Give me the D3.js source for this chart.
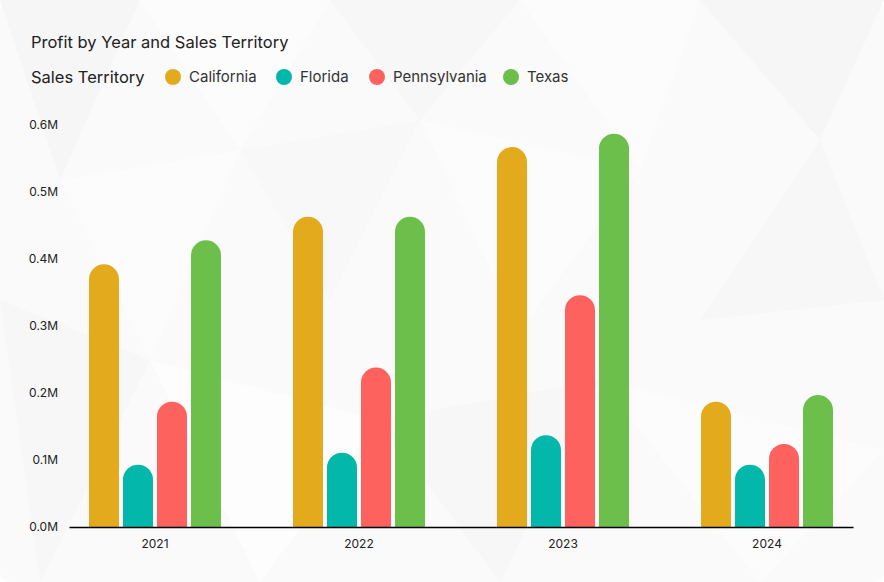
<!DOCTYPE html>
<html>
<head>
<meta charset="utf-8">
<script src="https://cdn.jsdelivr.net/npm/d3@7"></script>
<style>
    body { margin: 0; background: #ffffff; }
    svg { display: block; font-family: "Inter", "Noto Sans", sans-serif; }
</style>
</head>
<body>
<div id="chart"></div>
<script>
/*--------------------------------------*
 *---------------- Data ----------------*
 *--------------------------------------*/

const years = ['2021', '2022', '2023', '2024'];
const territories = ['California', 'Florida', 'Pennsylvania', 'Texas'];
const colors = ['#E3AA1E', '#03B8AA', '#FD625E', '#6DBF4B'];

// Profit per territory, one value per year (in millions)
const california = [0.392, 0.463, 0.567, 0.187];
const florida = [0.093, 0.111, 0.137, 0.093];
const pennsylvania = [0.187, 0.238, 0.346, 0.124];
const texas = [0.428, 0.463, 0.587, 0.197];

const yTicks = [0, 0.1, 0.2, 0.3, 0.4, 0.5, 0.6];

/*--------------------------------------*
 *------ Pre-plot initialization -------*
 *--------------------------------------*/

function initDimensions() {
    const margin = {
        top: 125,
        right: 31,
        bottom: 55,
        left: 69
    },
    width = 884 - margin.left - margin.right,
    height = 582 - margin.top - margin.bottom;

    return [ margin, width, height ];
}

function initSVG() {
    const svg = d3.select('#chart')
                .append('svg')
                .attr('width', 884)
                .attr('height', 582);
    return svg;
}

// Light low-poly card background
function drawBackground(svg) {
    svg.append('rect')
        .attr('x', 0).attr('y', 0)
        .attr('width', 884).attr('height', 582)
        .attr('rx', 10)
        .attr('fill', '#fafafa');

    const shards = [
        [[0, 0], [140, 0], [60, 180], '#f6f6f6'],
        [[140, 0], [330, 0], [240, 150], '#fcfcfc'],
        [[330, 0], [520, 0], [420, 120], '#f7f7f7'],
        [[520, 0], [700, 0], [640, 170], '#fcfcfc'],
        [[700, 0], [884, 0], [820, 140], '#f6f6f6'],
        [[60, 180], [240, 150], [150, 360], '#fcfcfc'],
        [[420, 120], [640, 170], [520, 330], '#fcfcfc'],
        [[820, 140], [884, 300], [700, 320], '#f7f7f7'],
        [[0, 300], [150, 360], [40, 582], '#f7f7f7'],
        [[150, 360], [380, 420], [260, 582], '#fdfdfd'],
        [[380, 420], [600, 380], [500, 582], '#f7f7f7'],
        [[600, 380], [884, 450], [760, 582], '#fcfcfc'],
        [[240, 150], [420, 120], [330, 300], '#f8f8f8']
    ];

    svg.append('g')
        .selectAll('polygon')
        .data(shards)
        .join('polygon')
        .attr('points', d => d.slice(0, 3).map(p => p.join(',')).join(' '))
        .attr('fill', d => d[3]);
}

function initScales(width, height) {
    const xScale = d3.scaleBand()
                    .domain(years)
                    .range([0, width])
                    .paddingInner(0.353)
                    .paddingOuter(0.098);

    const subScale = d3.scaleBand()
                    .domain(territories)
                    .range([0, xScale.bandwidth()])
                    .paddingInner(0.118);

    const yScale = d3.scaleLinear()
                    .domain([0, 0.6])
                    .range([height, 0]);

    return [ xScale, subScale, yScale ];
}

function initAxes(g, xScale, yScale, width, height) {
    const xAxis = d3.axisBottom(xScale)
                    .tickSize(0)
                    .tickPadding(12);

    const yAxis = d3.axisLeft(yScale)
                    .tickValues(yTicks)
                    .tickSize(0)
                    .tickPadding(11)
                    .tickFormat(d => d3.format('.1f')(d) + 'M');

    g.append('g')
        .attr('class', 'axis y-axis')
        .call(yAxis)
        .call(s => s.select('.domain').remove())
        .selectAll('text')
        .attr('font-size', 12)
        .attr('font-family', 'Inter, sans-serif')
        .attr('fill', '#222');

    const xg = g.append('g')
        .attr('class', 'axis x-axis')
        .attr('transform', 'translate(0,' + height + ')')
        .call(xAxis);

    xg.select('.domain')
        .attr('stroke', '#000')
        .attr('stroke-width', 1.5);

    xg.selectAll('text')
        .attr('font-size', 12)
        .attr('font-family', 'Inter, sans-serif')
        .attr('fill', '#222');

    return [ xAxis, yAxis ];
}

/*--------------------------------------*
 *------------ Title/legend ------------*
 *--------------------------------------*/

function drawHeader(svg) {
    svg.append('text')
        .attr('x', 31)
        .attr('y', 48)
        .attr('font-size', 16.5)
        .attr('fill', '#222')
        .text('Profit by Year and Sales Territory');

    const legend = svg.append('g')
        .attr('transform', 'translate(0,77)');

    legend.append('text')
        .attr('x', 31)
        .attr('y', 5.5)
        .attr('font-size', 16.5)
        .attr('fill', '#222')
        .text('Sales Territory');

    // Circle x positions
    const itemX = [173, 284, 377, 511];
    const item = legend.selectAll('.legend-item')
        .data(territories)
        .join('g')
        .attr('class', 'legend-item')
        .attr('transform', (d, i) => 'translate(' + itemX[i] + ',0)');

    item.append('circle')
        .attr('r', 8)
        .attr('fill', (d, i) => colors[i]);

    item.append('text')
        .attr('x', 16)
        .attr('y', 5)
        .attr('font-size', 15)
        .attr('fill', '#333')
        .text(d => d);
}

/*--------------------------------------*
 *-------- Plot initialization ---------*
 *--------------------------------------*/

// Bar with a fully rounded top, flat bottom
function barPath(x, y, w, h) {
    const r = Math.min(w / 2, h);
    return 'M' + x + ',' + (y + h) +
           'V' + (y + r) +
           'A' + r + ',' + r + ' 0 0 1 ' + (x + 2 * r) + ',' + (y + r) +
           'V' + (y + h) + 'Z';
}

function initPlots(svg) {
    const [ margin, width, height ] = initDimensions();
    const [ xScale, subScale, yScale ] = initScales(width, height);

    const g = svg.append('g')
        .attr('transform', 'translate(' + margin.left + ',' + margin.top + ')');

    const series = [california, florida, pennsylvania, texas];
    const rows = [];
    years.forEach((year, yi) => {
        territories.forEach((t, ti) => {
            rows.push({ year: year, territory: t, value: series[ti][yi], color: colors[ti] });
        });
    });

    g.selectAll('.bar')
        .data(rows)
        .join('path')
        .attr('class', 'bar')
        .attr('fill', d => d.color)
        .attr('d', d => {
            const x = xScale(d.year) + subScale(d.territory);
            const y = yScale(d.value);
            return barPath(x, y, subScale.bandwidth(), height - y);
        });

    initAxes(g, xScale, yScale, width, height);
}

const svg = initSVG();
drawBackground(svg);
drawHeader(svg);
initPlots(svg);
</script>
</body>
</html>
